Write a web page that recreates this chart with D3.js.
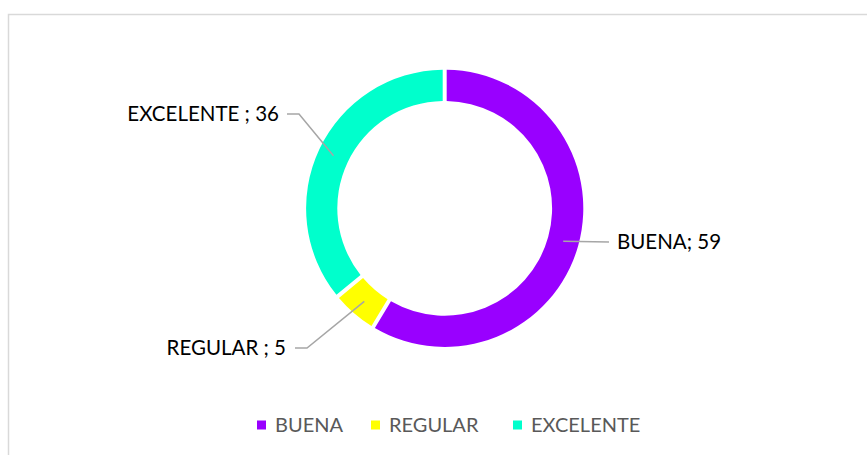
<!DOCTYPE html>
<html>
<head>
<meta charset="utf-8">
<script src="https://cdn.jsdelivr.net/npm/d3@7"></script>
<style>
  html, body { margin: 0; padding: 0; background: #ffffff; }
  svg { display: block; }
  text { font-family: Lato, "Liberation Sans", sans-serif; }
</style>
</head>
<body>
<svg id="chart" width="867" height="455"></svg>
<script>
const categories = ["BUENA", "REGULAR", "EXCELENTE"];
const values = [59, 5, 36];
const labelTexts = ["BUENA; 59", "REGULAR ; 5", "EXCELENTE ; 36"];
const colors = ["#9900FF", "#FFFF00", "#00FFCC"];

const svg = d3.select("#chart");

// chart frame
svg.append("rect")
  .attr("x", 8.5).attr("y", 14.5)
  .attr("width", 950).attr("height", 600)
  .attr("fill", "#fff")
  .attr("stroke", "#D9D9D9")
  .attr("stroke-width", 1.5);

const cx = 444.7, cy = 208.3;
const rOuter = 138.6, rInner = 107.4;
const rMid = (rOuter + rInner) / 2;

const color = d3.scaleOrdinal().domain(categories).range(colors);

const data = categories.map((c, i) => ({ cat: c, value: values[i], label: labelTexts[i] }));

const pie = d3.pie().value(d => d.value).sort(null).padAngle(0.03);
const arcs = pie(data);

const arc = d3.arc().innerRadius(rInner).outerRadius(rOuter).padRadius(133);
const midArc = d3.arc().innerRadius(rMid).outerRadius(rMid);

const g = svg.append("g").attr("transform", `translate(${cx},${cy})`);

g.selectAll("path.slice")
  .data(arcs)
  .join("path")
  .attr("class", "slice")
  .attr("d", arc)
  .attr("fill", d => color(d.data.cat));

// label layout (offsets relative to chart center)
const labelLayout = {
  "BUENA":     { elbow: [164.3, 33.7], end: [164.3, 33.7], anchor: "start", tx: 172.3 },
  "REGULAR":   { elbow: [-137.7, 139.7], end: [-149.7, 139.7], anchor: "end", tx: -158.7 },
  "EXCELENTE": { elbow: [-145.7, -94.3], end: [-157.7, -94.3], anchor: "end", tx: -165.7 }
};

arcs.forEach(d => {
  const L = labelLayout[d.data.cat];
  const c = midArc.centroid(d);
  g.append("polyline")
    .attr("points", [c, L.elbow, L.end].map(p => p.join(",")).join(" "))
    .attr("fill", "none")
    .attr("stroke", "#A6A6A6")
    .attr("stroke-width", 1.5);
  g.append("text")
    .attr("x", L.tx)
    .attr("y", L.end[1])
    .attr("dy", "0.36em")
    .attr("text-anchor", L.anchor)
    .attr("font-size", 20.5)
    .attr("fill", "#000")
    .text(d.data.label);
});

// legend
const legendItems = [
  { cat: "BUENA", sx: 257 },
  { cat: "REGULAR", sx: 371 },
  { cat: "EXCELENTE", sx: 513 }
];
const ly = 425;
const lg = svg.append("g");
legendItems.forEach(it => {
  lg.append("rect")
    .attr("x", it.sx).attr("y", ly - 4.5)
    .attr("width", 9).attr("height", 9)
    .attr("fill", color(it.cat));
  lg.append("text")
    .attr("x", it.sx + 18)
    .attr("y", ly)
    .attr("dy", "0.36em")
    .attr("font-size", 20)
    .attr("fill", "#595959")
    .text(it.cat);
});
</script>
</body>
</html>
